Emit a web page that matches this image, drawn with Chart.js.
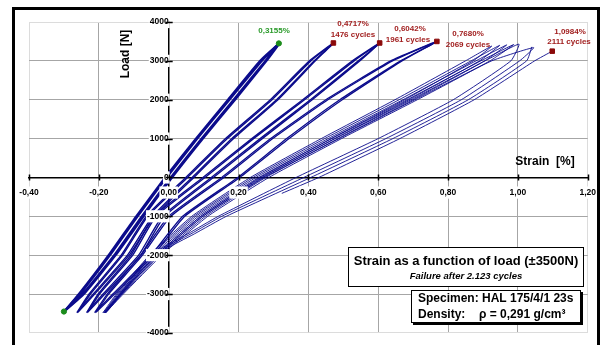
<!DOCTYPE html>
<html>
<head>
<meta charset="utf-8">
<script src="https://cdn.jsdelivr.net/npm/chart.js@4/dist/chart.umd.min.js"></script>
<style>
  html, body { margin: 0; padding: 0; background: #fff; }
  #wrap { width: 606px; height: 345px; }
</style>
</head>
<body>
<div id="wrap"><canvas id="chart"></canvas></div>
<script>
// Strain [%] vs load [N] hysteresis loops

const strainRange = [-0.4, 1.2];
const loadRange = [-4000, 4000];

// group A: first cycles, up to 0,3155 %
const loopA1 = [[-0.300,-3450],[-0.246,-3000],[-0.156,-2000],[-0.077,-1000],[0.006,0],[0.094,1000],[0.186,2000],[0.277,3000],[0.3155,3450],
  [0.267,3000],[0.174,2000],[0.082,1000],[-0.006,0],[-0.089,-1000],[-0.168,-2000],[-0.254,-3000],[-0.300,-3450]];
const loopA2 = [[-0.298,-3440],[-0.243,-3000],[-0.152,-2000],[-0.072,-1000],[0.010,0],[0.098,1000],[0.190,2000],[0.280,3000],[0.314,3420],
  [0.262,3000],[0.170,2000],[0.078,1000],[-0.010,0],[-0.093,-1000],[-0.172,-2000],[-0.257,-3000],[-0.298,-3440]];

// group B: 1476 cycles
const loopB1 = [[-0.263,-3480],[-0.216,-3000],[-0.118,-2000],[-0.046,-1000],[0.067,0],[0.181,1000],[0.309,2000],[0.417,3000],[0.4717,3460],
  [0.403,3000],[0.291,2000],[0.163,1000],[0.049,0],[-0.064,-1000],[-0.136,-2000],[-0.228,-3000],[-0.263,-3480]];
const loopB2 = [[-0.260,-3470],[-0.212,-3000],[-0.113,-2000],[-0.040,-1000],[0.072,0],[0.186,1000],[0.313,2000],[0.420,3000],[0.470,3440],
  [0.407,3000],[0.296,2000],[0.168,1000],[0.054,0],[-0.060,-1000],[-0.132,-2000],[-0.224,-3000],[-0.260,-3470]];

// group C: 1961 cycles
const loopC1 = [[-0.235,-3480],[-0.188,-3000],[-0.086,-2000],[-0.018,-1000],[0.122,0],[0.262,1000],[0.406,2000],[0.543,3000],[0.6042,3460],
  [0.526,3000],[0.384,2000],[0.238,1000],[0.098,0],[-0.042,-1000],[-0.108,-2000],[-0.202,-3000],[-0.235,-3480]];
const loopC2 = [[-0.232,-3470],[-0.183,-3000],[-0.080,-2000],[-0.012,-1000],[0.128,0],[0.268,1000],[0.411,2000],[0.547,3000],[0.602,3440],
  [0.531,3000],[0.389,2000],[0.243,1000],[0.104,0],[-0.036,-1000],[-0.103,-2000],[-0.198,-3000],[-0.232,-3470]];

// group D: 2069 cycles
const loopD1 = [[-0.212,-3480],[-0.160,-3000],[-0.050,-2000],[0.040,-1000],[0.198,0],[0.338,1000],[0.490,2000],[0.664,3000],[0.768,3500],
  [0.636,3000],[0.450,2000],[0.292,1000],[0.152,0],[0.000,-1000],[-0.080,-2000],[-0.176,-3000],[-0.212,-3480]];
const loopD2 = [[-0.208,-3470],[-0.155,-3000],[-0.044,-2000],[0.046,-1000],[0.204,0],[0.345,1000],[0.497,2000],[0.668,3000],[0.766,3490],
  [0.641,3000],[0.456,2000],[0.298,1000],[0.158,0],[0.006,-1000],[-0.075,-2000],[-0.172,-3000],[-0.208,-3470]];

// group E: last cycles before failure
const loopE1 = [[-0.188,-3480],[-0.140,-3000],[-0.035,-2000],[0.092,-1000],[0.262,0],[0.465,1000],[0.676,2000],[0.872,3000],[0.925,3380],
  [0.850,3000],[0.648,2000],[0.437,1000],[0.234,0],[0.066,-1000],[-0.055,-2000],[-0.150,-3000],[-0.188,-3480]];
const loopE2 = [[-0.185,-3480],[-0.136,-3000],[-0.030,-2000],[0.098,-1000],[0.270,0],[0.475,1000],[0.688,2000],[0.890,3000],[0.948,3400],
  [0.866,3000],[0.660,2000],[0.447,1000],[0.242,0],[0.072,-1000],[-0.050,-2000],[-0.147,-3000],[-0.185,-3480]];
const loopE3 = [[-0.183,-3480],[-0.133,-3000],[-0.025,-2000],[0.105,-1000],[0.278,0],[0.485,1000],[0.700,2000],[0.905,3000],[0.968,3410],
  [0.880,3000],[0.671,2000],[0.457,1000],[0.250,0],[0.078,-1000],[-0.045,-2000],[-0.144,-3000],[-0.183,-3480]];
const loopE4 = [[-0.181,-3480],[-0.130,-3000],[-0.020,-2000],[0.112,-1000],[0.287,0],[0.495,1000],[0.712,2000],[0.920,3000],[0.988,3420],
  [0.894,3000],[0.683,2000],[0.467,1000],[0.258,0],[0.085,-1000],[-0.040,-2000],[-0.141,-3000],[-0.181,-3480]];
const loopE5 = [[-0.183,-3480],[-0.140,-3000],[-0.080,-2300],[-0.035,-1900],[0.055,-1450],[0.142,-1000],[0.365,0],[0.600,1000],[0.815,2000],[0.980,3000],[1.003,3430],
  [0.906,3000],[0.694,2000],[0.477,1000],[0.266,0],[0.092,-1000],[-0.035,-2000],[-0.138,-3000],[-0.183,-3480]];
const loopE6 = [[-0.181,-3480],[-0.137,-3000],[-0.075,-2300],[-0.028,-1900],[0.064,-1450],[0.152,-1000],[0.387,0],[0.622,1000],[0.838,2000],[1.005,3000],[1.045,3340],
  [0.925,3000],[0.705,2000],[0.488,1000],[0.274,0],[0.098,-1000],[-0.030,-2000],[-0.136,-3000],[-0.181,-3480]];
const loopE7 = [[-0.179,-3480],[-0.134,-3000],[-0.070,-2300],[-0.020,-1900],[0.074,-1450],[0.165,-1000],[0.407,0],[0.642,1000],[0.858,2000],[1.025,3000],[1.040,3360]];
const failureBranch = [[0.324,-410],[0.430,0],[0.662,1000],[0.875,2000],[1.048,3000],[1.0984,3250]];

// end points
const greenPoints = [[-0.300,-3450],[0.3155,3450]];
const redPoints = [[0.4717,3460],[0.6042,3460],[0.768,3500],[1.0984,3250]];

const xTicksStep = 0.2;
const yTicksStep = 1000;

const NAVY = "#0b0b8c";

function toXY(arr) {
  return arr.map(([x, y]) => ({ x, y }));
}

function loopSet(arr, width) {
  return {
    data: toXY(arr),
    showLine: true,
    borderColor: NAVY,
    borderWidth: width,
    pointRadius: 0,
    tension: 0.15,
    fill: false,
  };
}

const datasets = [
  {
    data: toXY(greenPoints),
    pointStyle: "circle",
    pointRadius: 2.6,
    backgroundColor: "#1c8c1c",
    borderColor: "#1c8c1c",
    showLine: false,
  },
  {
    data: toXY(redPoints),
    pointStyle: "rect",
    pointRadius: 3.2,
    backgroundColor: "#8b0a0a",
    borderColor: "#8b0a0a",
    showLine: false,
  },
  loopSet(loopA1, 2.2),
  loopSet(loopA2, 2.2),
  loopSet(loopB1, 1.4),
  loopSet(loopB2, 1.4),
  loopSet(loopC1, 1.4),
  loopSet(loopC2, 1.4),
  loopSet(loopD1, 1.3),
  loopSet(loopD2, 1.3),
  loopSet(loopE1, 0.9),
  loopSet(loopE2, 0.9),
  loopSet(loopE3, 0.9),
  loopSet(loopE4, 0.9),
  loopSet(loopE5, 0.9),
  loopSet(loopE6, 0.9),
  loopSet(loopE7, 0.9),
  loopSet(failureBranch, 0.9),
];

function isEdge(v, range) {
  return Math.abs(v - range[0]) < 1e-6 || Math.abs(v - range[1]) < 1e-6;
}

function fmtStrain(v) {
  if (Math.abs(v) < 1e-9) v = 0;
  return v.toFixed(2).replace(".", ",");
}

const FONT = "'Liberation Sans', Arial, sans-serif";

const decor = {
  id: "decor",
  beforeDraw(chart) {
    const ctx = chart.ctx;
    ctx.save();
    ctx.fillStyle = "#fff";
    ctx.fillRect(0, 0, chart.width, chart.height);
    ctx.restore();
  },
  afterDraw(chart) {
    const ctx = chart.ctx;
    const xs = chart.scales.x;
    const ys = chart.scales.y;
    const x0 = xs.getPixelForValue(0);
    const y0 = ys.getPixelForValue(0);
    ctx.save();

    // cross ticks on both axes
    ctx.strokeStyle = "#000";
    ctx.lineWidth = 1.5;
    ctx.beginPath();
    xs.ticks.forEach((t) => {
      const px = Math.round(xs.getPixelForValue(t.value)) + 0.5;
      ctx.moveTo(px, y0 - 3);
      ctx.lineTo(px, y0 + 3);
    });
    ys.ticks.forEach((t) => {
      const py = Math.round(ys.getPixelForValue(t.value)) + 0.5;
      ctx.moveTo(x0 - 3, py);
      ctx.lineTo(x0 + 4, py);
    });
    ctx.stroke();

    // axis titles
    ctx.fillStyle = "#000";
    ctx.font = "bold 12px " + FONT;
    ctx.textAlign = "center";
    ctx.textBaseline = "middle";
    ctx.fillText("Strain  [%]", 545, 162);
    ctx.save();
    ctx.translate(126, 54);
    ctx.rotate(-Math.PI / 2);
    ctx.fillText("Load [N]", 0, 0);
    ctx.restore();

    // end point labels
    ctx.font = "bold 8px " + FONT;
    ctx.fillStyle = "#2a9a2a";
    ctx.fillText("0,3155%", 274, 31);
    ctx.fillStyle = "#a11e1e";
    ctx.fillText("0,4717%", 353, 24);
    ctx.fillText("1476 cycles", 353, 35);
    ctx.fillText("0,6042%", 410, 29);
    ctx.fillText("1961 cycles", 408, 40);
    ctx.fillText("0,7680%", 468, 34);
    ctx.fillText("2069 cycles", 468, 45);
    ctx.fillText("1,0984%", 570, 32);
    ctx.fillText("2111 cycles", 569, 42);

    // title box
    ctx.fillStyle = "#fff";
    ctx.fillRect(348, 247, 235, 39);
    ctx.strokeStyle = "#000";
    ctx.lineWidth = 1;
    ctx.strokeRect(348.5, 247.5, 235, 39);
    ctx.fillStyle = "#000";
    ctx.font = "bold 13px " + FONT;
    ctx.fillText("Strain as a function of load (\u00b13500N)", 466, 261);
    ctx.font = "italic bold 9.5px " + FONT;
    ctx.fillText("Failure after 2.123 cycles", 466, 276);

    // specimen box with shadow
    ctx.fillStyle = "#000";
    ctx.fillRect(413, 292, 170, 33);
    ctx.fillStyle = "#fff";
    ctx.fillRect(411, 290, 170, 33);
    ctx.strokeRect(411.5, 290.5, 169, 32);
    ctx.fillStyle = "#000";
    ctx.textAlign = "left";
    ctx.font = "bold 12px " + FONT;
    ctx.fillText("Specimen: HAL 175/4/1 23s", 418, 299);
    ctx.fillText("Density:", 418, 315);
    ctx.fillText("\u03c1 = 0,291 g/cm\u00b3", 479, 315);

    // outer frame
    ctx.fillRect(12, 7, 588, 3);
    ctx.fillRect(12, 7, 3, 345);
    ctx.fillRect(597, 7, 3, 345);
    ctx.restore();
  },
};

new Chart(document.getElementById("chart"), {
  type: "scatter",
  data: { datasets },
  options: {
    responsive: true,
    maintainAspectRatio: false,
    animation: false,
    layout: { padding: { left: 29, right: 16, top: 22, bottom: 11 } },
    plugins: { legend: { display: false }, tooltip: { enabled: false } },
    scales: {
      x: {
        type: "linear",
        min: strainRange[0],
        max: strainRange[1],
        position: { y: 0 },
        afterFit: (s) => { s.height = 0; },
        border: { color: "#000", width: 1.5 },
        grid: {
          drawTicks: false,
          lineWidth: 1,
          color: (c) => (c.tick && isEdge(c.tick.value, strainRange) ? "#dcdcdc" : "#a6a6a6"),
        },
        ticks: {
          stepSize: xTicksStep,
          autoSkip: false,
          maxRotation: 0,
          padding: 10,
          z: 1,
          color: "#000",
          font: { family: FONT, size: 8.5, weight: "bold" },
          showLabelBackdrop: true,
          backdropColor: "#fff",
          backdropPadding: 1,
          callback: (v) => fmtStrain(v),
        },
      },
      y: {
        type: "linear",
        min: loadRange[0],
        max: loadRange[1],
        position: { x: 0 },
        afterFit: (s) => { s.width = 0; },
        border: { color: "#000", width: 1.5 },
        grid: {
          drawTicks: false,
          lineWidth: 1,
          color: (c) => (c.tick && isEdge(c.tick.value, loadRange) ? "#dcdcdc" : "#a6a6a6"),
        },
        ticks: {
          stepSize: yTicksStep,
          autoSkip: false,
          padding: 7,
          z: 1,
          color: "#000",
          font: { family: FONT, size: 8.5, weight: "bold" },
          showLabelBackdrop: true,
          backdropColor: "#fff",
          backdropPadding: 1,
          callback: (v) => String(Math.round(v)),
        },
      },
    },
  },
  plugins: [decor],
});
</script>
</body>
</html>
